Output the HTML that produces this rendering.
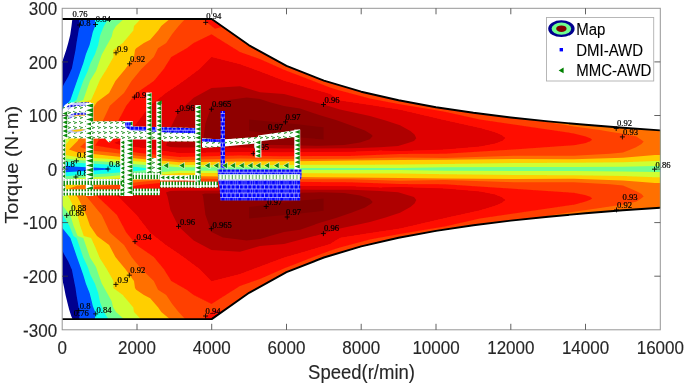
<!DOCTYPE html><html><head><meta charset="utf-8"><style>html,body{margin:0;padding:0;background:#fff;}svg{display:block;}</style></head><body><svg width="685" height="386" viewBox="0 0 685 386">
<defs><clipPath id="env"><path d="M62.2 19.0L211.7 19.0L249.1 45.3L286.5 65.9L323.9 80.6L361.2 91.7L398.6 100.3L436.0 107.2L473.4 112.8L510.8 117.5L548.2 121.4L585.5 124.8L622.9 127.8L660.3 130.4L660.3 207.7L622.9 210.3L585.5 213.3L548.2 216.7L510.8 220.6L473.4 225.3L436.0 230.9L398.6 237.8L361.2 246.4L323.9 257.5L286.5 272.2L249.1 292.8L211.7 319.1L62.2 319.1Z"/></clipPath><clipPath id="box"><rect x="62.2" y="8.3" width="598.1" height="321.5"/></clipPath></defs>
<rect width="685" height="386" fill="#fff"/>
<filter id="bl" x="0" y="0" width="1" height="1"><feGaussianBlur stdDeviation="0.7"/></filter><g filter="url(#bl)">
<g clip-path="url(#env)">
<path fill="#00008f" d="M72.3 0.0L72.3 19.5L71.5 26.0L70.2 35.0L68.2 43.0L66.2 50.0L64.2 56.0L62.2 62.0L55.0 70.0L55.0 169.8L700.0 169.8L700.0 0.0Z"/>
<path fill="#00008f" d="M72.3 340.0L72.3 318.6L71.2 316.0L69.2 309.8L67.5 303.0L65.6 295.3L64.0 287.0L62.2 279.0L55.0 270.0L55.0 168.4L700.0 168.4L700.0 340.0Z"/>
<path fill="#0050ff" d="M79.3 0.0L79.3 19.5L79.4 26.0L76.5 43.0L75.5 50.0L74.3 56.0L73.5 60.0L71.9 68.3L68.3 76.6L64.1 83.8L62.6 87.0L55.0 95.0L55.0 169.8L700.0 169.8L700.0 0.0Z"/>
<path fill="#0050ff" transform="matrix(1 0 0 -1 0 338.10)" d="M79.3 0.0L79.3 19.5L79.4 26.0L76.5 43.0L75.5 50.0L74.3 56.0L73.5 60.0L71.9 68.3L68.3 76.6L64.1 83.8L62.6 87.0L55.0 95.0L55.0 169.8L700.0 169.8L700.0 0.0Z"/>
<path fill="#10ffef" d="M95.0 0.0L95.0 19.5L95.2 26.0L92.8 32.0L91.9 36.0L89.6 45.1L86.0 54.1L83.3 63.2L80.5 71.0L77.1 80.7L73.5 91.1L70.4 100.0L68.8 102.0L62.6 109.8L55.0 115.0L55.0 165.5L62.2 165.5L77.0 166.7L92.0 167.5L107.0 168.3L112.0 169.8L700.0 169.8L700.0 0.0Z"/>
<path fill="#10ffef" transform="matrix(1 0 0 -1 0 338.10)" d="M95.0 0.0L95.0 19.5L95.2 26.0L92.8 32.0L91.9 36.0L89.6 45.1L86.0 54.1L83.3 63.2L80.5 71.0L77.1 80.7L73.5 91.1L70.4 100.0L68.8 102.0L62.6 109.8L55.0 115.0L55.0 165.5L62.2 165.5L77.0 166.7L92.0 167.5L107.0 168.3L112.0 169.8L700.0 169.8L700.0 0.0Z"/>
<path fill="#70ff8f" d="M108.0 0.0L108.0 19.5L104.0 26.0L101.5 32.0L100.0 36.0L98.2 45.1L95.1 54.1L90.5 63.2L87.8 71.0L83.3 80.7L79.7 91.1L76.6 100.0L73.5 102.0L69.3 112.4L63.1 122.7L62.2 124.0L55.0 126.0L55.0 161.5L62.2 161.5L77.0 162.8L107.0 164.5L139.4 167.3L157.0 169.8L700.0 169.8L700.0 0.0Z"/>
<path fill="#70ff8f" transform="matrix(1 0 0 -1 0 338.10)" d="M108.0 0.0L108.0 19.5L104.0 26.0L101.5 32.0L100.0 36.0L98.2 45.1L95.1 54.1L90.5 63.2L87.8 71.0L83.3 80.7L79.7 91.1L76.6 100.0L73.5 102.0L69.3 112.4L63.1 122.7L62.2 124.0L55.0 126.0L55.0 161.5L62.2 161.5L77.0 162.8L107.0 164.5L139.4 167.3L157.0 169.8L700.0 169.8L700.0 0.0Z"/>
<path fill="#cfff30" d="M122.4 0.0L123.3 19.5L116.0 26.0L113.0 31.0L111.7 36.8L106.8 45.5L101.8 54.5L98.7 63.2L96.0 71.0L90.0 80.7L86.4 91.1L83.3 100.0L77.6 102.0L73.5 112.4L70.4 122.7L66.0 128.0L62.2 133.0L55.0 135.0L55.0 158.0L62.2 158.0L77.0 160.0L107.0 161.7L139.4 164.5L179.3 167.3L240.0 167.3L280.0 168.0L350.0 168.1L400.0 168.0L445.0 167.3L514.0 167.0L574.0 167.0L623.0 166.7L655.0 166.1L700.0 166.0L700.0 0.0Z"/>
<path fill="#cfff30" transform="matrix(1 0 0 -1 0 338.10)" d="M122.4 0.0L123.3 19.5L116.0 26.0L113.0 31.0L111.7 36.8L106.8 45.5L101.8 54.5L98.7 63.2L96.0 71.0L90.0 80.7L86.4 91.1L83.3 100.0L77.6 102.0L73.5 112.4L70.4 122.7L66.0 128.0L62.2 133.0L55.0 135.0L55.0 158.0L62.2 158.0L77.0 160.0L107.0 161.7L139.4 164.5L179.3 167.3L240.0 167.3L280.0 168.0L350.0 168.1L400.0 168.0L445.0 167.3L514.0 167.0L574.0 167.0L623.0 166.7L655.0 166.1L700.0 166.0L700.0 0.0Z"/>
<path fill="#ffcf00" d="M140.3 0.0L140.3 19.5L134.0 26.0L133.3 30.6L122.8 43.0L113.3 50.0L113.5 57.0L106.7 69.0L100.0 79.7L95.2 91.1L91.1 100.0L83.8 102.0L80.2 112.4L77.6 122.7L69.0 140.8L62.2 149.0L55.0 150.0L55.0 154.5L62.2 154.5L77.0 157.0L107.0 158.8L139.4 161.6L179.3 165.0L240.0 165.0L280.0 165.0L350.0 164.7L400.0 164.5L445.0 163.9L514.0 163.0L574.0 162.8L623.0 162.2L655.0 160.9L700.0 160.5L700.0 0.0Z"/>
<path fill="#ffcf00" transform="matrix(1 0 0 -1 0 338.10)" d="M140.3 0.0L140.3 19.5L134.0 26.0L133.3 30.6L122.8 43.0L113.3 50.0L113.5 57.0L106.7 69.0L100.0 79.7L95.2 91.1L91.1 100.0L83.8 102.0L80.2 112.4L77.6 122.7L69.0 140.8L62.2 149.0L55.0 150.0L55.0 154.5L62.2 154.5L77.0 157.0L107.0 158.8L139.4 161.6L179.3 165.0L240.0 165.0L280.0 165.0L350.0 164.7L400.0 164.5L445.0 163.9L514.0 163.0L574.0 162.8L623.0 162.2L655.0 160.9L700.0 160.5L700.0 0.0Z"/>
<path fill="#ff7000" d="M169.1 0.0L169.1 19.5L161.3 26.0L158.2 30.6L150.2 39.8L143.9 43.0L136.2 48.3L135.0 50.0L134.0 57.0L125.3 69.0L115.4 81.0L109.1 93.0L97.0 102.0L90.0 112.4L86.4 122.7L77.8 140.8L69.0 149.5L77.0 152.3L107.0 155.4L139.4 158.8L179.3 162.2L240.0 161.4L280.0 161.3L350.0 160.6L400.0 160.0L445.0 159.7L514.0 159.0L574.0 159.3L623.0 157.7L655.0 155.1L700.0 154.5L700.0 0.0Z"/>
<path fill="#ff7000" transform="matrix(1 0 0 -1 0 338.10)" d="M169.1 0.0L169.1 19.5L161.3 26.0L158.2 30.6L150.2 39.8L143.9 43.0L136.2 48.3L135.0 50.0L134.0 57.0L125.3 69.0L115.4 81.0L109.1 93.0L97.0 102.0L90.0 112.4L86.4 122.7L77.8 140.8L69.0 149.5L77.0 152.3L107.0 155.4L139.4 158.8L179.3 162.2L240.0 161.4L280.0 161.3L350.0 160.6L400.0 160.0L445.0 159.7L514.0 159.0L574.0 159.3L623.0 157.7L655.0 155.1L700.0 154.5L700.0 0.0Z"/>
<path fill="#ff4000" d="M80.0 147.0L87.1 140.8L101.7 123.2L109.9 105.7L124.0 93.0L131.5 81.0L141.4 69.0L153.8 57.0L158.0 48.3L166.2 43.0L172.0 34.3L178.6 26.0L184.6 19.5L184.6 0.0L530.0 0.0L530.0 117.0L550.0 122.5L574.0 126.4L600.0 130.0L610.0 131.7L623.0 133.7L636.0 136.3L640.5 139.2L643.7 141.5L641.5 144.0L636.0 147.2L629.5 149.9L623.0 152.5L610.0 153.8L574.0 155.8L514.0 155.8L445.0 158.0L400.0 157.4L350.0 158.8L280.0 159.0L240.0 158.5L179.3 160.0L139.4 156.0L107.0 152.0L90.0 150.5Z"/>
<path fill="#ff4000" transform="matrix(1 0 0 -1 0 338.10)" d="M80.0 147.0L87.1 140.8L101.7 123.2L109.9 105.7L124.0 93.0L131.5 81.0L141.4 69.0L153.8 57.0L158.0 48.3L166.2 43.0L172.0 34.3L178.6 26.0L184.6 19.5L184.6 0.0L530.0 0.0L530.0 117.0L550.0 122.5L574.0 126.4L600.0 130.0L610.0 131.7L623.0 133.7L636.0 136.3L640.5 139.2L643.7 141.5L641.5 144.0L636.0 147.2L629.5 149.9L623.0 152.5L610.0 153.8L574.0 155.8L514.0 155.8L445.0 158.0L400.0 157.4L350.0 158.8L280.0 159.0L240.0 158.5L179.3 160.0L139.4 156.0L107.0 152.0L90.0 150.5Z"/>
<path fill="#ff1000" d="M95.0 145.5L98.2 140.8L116.9 123.2L126.2 105.7L136.4 93.0L153.8 81.0L163.7 69.0L171.2 57.0L187.0 48.0L193.5 43.0L211.5 34.2L240.0 52.0L260.0 59.0L284.0 69.7L330.0 87.4L340.0 90.5L369.9 98.6L400.0 104.2L445.0 111.7L480.0 119.5L514.0 124.5L574.0 133.4L585.0 136.3L590.3 138.3L592.2 139.7L590.3 141.3L585.0 143.2L574.0 145.3L514.0 149.4L445.0 153.8L400.0 154.0L350.0 155.9L280.0 156.3L240.0 155.5L179.3 157.0L139.4 153.1L107.0 147.4Z"/>
<path fill="#ff1000" transform="matrix(1 0 0 -1 0 338.10)" d="M95.0 145.5L98.2 140.8L116.9 123.2L126.2 105.7L136.4 93.0L153.8 81.0L163.7 69.0L171.2 57.0L187.0 48.0L193.5 43.0L211.5 34.2L240.0 52.0L260.0 59.0L284.0 69.7L330.0 87.4L340.0 90.5L369.9 98.6L400.0 104.2L445.0 111.7L480.0 119.5L514.0 124.5L574.0 133.4L585.0 136.3L590.3 138.3L592.2 139.7L590.3 141.3L585.0 143.2L574.0 145.3L514.0 149.4L445.0 153.8L400.0 154.0L350.0 155.9L280.0 156.3L240.0 155.5L179.3 157.0L139.4 153.1L107.0 147.4Z"/>
<path fill="#ff1000" d="M204.0 15.0L213.0 15.0L226.0 26.0L215.0 28.7L205.0 21.0Z"/>
<path fill="#ff1000" transform="matrix(1 0 0 -1 0 338.10)" d="M204.0 15.0L213.0 15.0L226.0 26.0L215.0 28.7L205.0 21.0Z"/>
<path fill="#df0000" d="M114.0 143.0L119.2 140.8L136.7 123.2L150.0 105.7L166.0 93.0L183.6 81.0L199.7 69.0L211.5 56.9L240.0 64.2L260.0 71.5L284.0 80.7L330.0 94.0L340.0 100.4L369.9 105.0L400.0 109.7L445.0 120.2L480.0 127.9L495.0 132.3L502.0 135.3L505.3 138.1L502.0 140.9L495.0 143.5L480.0 146.6L445.0 149.6L400.0 151.0L380.0 150.6L351.7 151.8L280.0 152.2L240.0 152.0L179.3 153.0L139.4 147.4L120.0 145.0Z"/>
<path fill="#df0000" transform="matrix(1 0 0 -1 0 338.10)" d="M114.0 143.0L119.2 140.8L136.7 123.2L150.0 105.7L166.0 93.0L183.6 81.0L199.7 69.0L211.5 56.9L240.0 64.2L260.0 71.5L284.0 80.7L330.0 94.0L340.0 100.4L369.9 105.0L400.0 109.7L445.0 120.2L480.0 127.9L495.0 132.3L502.0 135.3L505.3 138.1L502.0 140.9L495.0 143.5L480.0 146.6L445.0 149.6L400.0 151.0L380.0 150.6L351.7 151.8L280.0 152.2L240.0 152.0L179.3 153.0L139.4 147.4L120.0 145.0Z"/>
<path fill="#af0000" d="M166.0 145.5L167.5 141.5L170.4 128.1L178.5 111.7L193.7 97.7L211.5 88.0L240.0 86.3L260.0 92.2L284.0 94.0L323.5 104.5L340.0 109.5L370.0 116.0L385.6 120.5L400.0 125.3L410.4 131.0L414.5 134.5L416.3 138.2L414.0 141.0L407.2 143.2L398.1 145.9L380.0 147.2L351.7 148.3L280.0 148.6L240.0 147.5L179.3 147.4L170.0 147.0Z"/>
<path fill="#af0000" transform="matrix(1 0 0 -1 0 338.10)" d="M166.0 145.5L167.5 141.5L170.4 128.1L178.5 111.7L193.7 97.7L211.5 88.0L240.0 86.3L260.0 92.2L284.0 94.0L323.5 104.5L340.0 109.5L370.0 116.0L385.6 120.5L400.0 125.3L410.4 131.0L414.5 134.5L416.3 138.2L414.0 141.0L407.2 143.2L398.1 145.9L380.0 147.2L351.7 148.3L280.0 148.6L240.0 147.5L179.3 147.4L170.0 147.0Z"/>
<path fill="#8f0000" d="M202.0 143.5L203.0 142.0L205.4 123.4L211.5 106.0L223.0 100.7L246.7 97.5L260.0 99.0L270.0 102.2L284.0 106.0L300.0 108.4L320.0 115.3L336.0 120.1L352.0 125.7L365.0 130.5L371.4 134.5L372.7 136.1L369.8 139.3L360.1 142.6L344.1 145.0L320.0 145.8L280.0 145.0L240.0 144.6L205.0 144.5Z"/>
<path fill="#8f0000" transform="matrix(1 0 0 -1 0 338.10)" d="M202.0 143.5L203.0 142.0L205.4 123.4L211.5 106.0L223.0 100.7L246.7 97.5L260.0 99.0L270.0 102.2L284.0 106.0L300.0 108.4L320.0 115.3L336.0 120.1L352.0 125.7L365.0 130.5L371.4 134.5L372.7 136.1L369.8 139.3L360.1 142.6L344.1 145.0L320.0 145.8L280.0 145.0L240.0 144.6L205.0 144.5Z"/>
<path fill="#800000" d="M249.1 119.5L300.0 124.5L323.6 127.3L323.6 139.5L300.0 137.5L249.1 131.0Z"/>
<path fill="#800000" transform="matrix(1 0 0 -1 0 338.10)" d="M249.1 119.5L300.0 124.5L323.6 127.3L323.6 139.5L300.0 137.5L249.1 131.0Z"/>
</g>
<path d="M62.2 19.0L211.7 19.0L249.1 45.3L286.5 65.9L323.9 80.6L361.2 91.7L398.6 100.3L436.0 107.2L473.4 112.8L510.8 117.5L548.2 121.4L585.5 124.8L622.9 127.8L660.3 130.4M62.2 319.1L211.7 319.1L249.1 292.8L286.5 272.2L323.9 257.5L361.2 246.4L398.6 237.8L436.0 230.9L473.4 225.3L510.8 220.6L548.2 216.7L585.5 213.3L622.9 210.3L660.3 207.7" fill="none" stroke="#000" stroke-width="1.9" stroke-linejoin="round"/>
<g font-family="Liberation Serif, serif" font-size="8.6" fill="#000" stroke="#000" stroke-width="0.2">
<text x="72.5" y="17.2">0.76</text>
<text x="79.8" y="25.6">0.8</text>
<text x="95.8" y="21.6">0.84</text>
<text x="117.0" y="51.5">0.9</text>
<text x="130.0" y="62.0">0.92</text>
<text x="206.3" y="18.8">0.94</text>
<text x="135.5" y="98.0">0.94</text>
<text x="179.5" y="110.5">0.96</text>
<text x="212.0" y="106.8">0.965</text>
<text x="324.5" y="102.7">0.96</text>
<text x="285.5" y="119.8">0.97</text>
<text x="268.0" y="129.8">0.97</text>
<text x="254.0" y="149.6">0.95</text>
<text x="617.0" y="126.4">0.92</text>
<text x="623.0" y="134.8">0.93</text>
<text x="655.5" y="167.5">0.86</text>
<text x="64.0" y="167.0">0.8</text>
<text x="77.0" y="157.5">0.8</text>
<text x="77.0" y="176.0">0.8</text>
<text x="109.0" y="166.8">0.84</text>
<text x="71.3" y="211.4">0.88</text>
<text x="69.0" y="216.0">0.86</text>
<text x="136.5" y="240.0">0.94</text>
<text x="180.0" y="225.0">0.96</text>
<text x="212.5" y="227.5">0.965</text>
<text x="267.3" y="205.3">0.97</text>
<text x="286.0" y="214.7">0.97</text>
<text x="324.0" y="231.3">0.96</text>
<text x="622.6" y="199.7">0.93</text>
<text x="617.0" y="207.9">0.92</text>
<text x="205.6" y="314.0">0.94</text>
<text x="117.6" y="282.7">0.9</text>
<text x="130.2" y="273.1">0.92</text>
<text x="79.7" y="308.8">0.8</text>
<text x="73.8" y="316.4">0.76</text>
<text x="96.5" y="313.0">0.84</text>
</g><g stroke="#000" stroke-width="0.85" fill="none">
<path d="M77.0 25.0h5M79.5 22.5v5"/>
<path d="M93.0 24.5h5M95.5 22.0v5"/>
<path d="M113.5 52.8h5M116.0 50.3v5"/>
<path d="M127.1 63.8h5M129.6 61.3v5"/>
<path d="M203.2 22.4h5M205.7 19.9v5"/>
<path d="M131.9 97.1h5M134.4 94.6v5"/>
<path d="M175.3 111.5h5M177.8 109.0v5"/>
<path d="M208.9 109.2h5M211.4 106.7v5"/>
<path d="M321.0 104.5h5M323.5 102.0v5"/>
<path d="M283.0 121.9h5M285.5 119.4v5"/>
<path d="M250.8 153.7h5M253.3 151.2v5"/>
<path d="M613.7 128.5h5M616.2 126.0v5"/>
<path d="M619.9 136.9h5M622.4 134.4v5"/>
<path d="M652.0 169.2h5M654.5 166.7v5"/>
<path d="M73.9 160.9h5M76.4 158.4v5"/>
<path d="M73.4 177.0h5M75.9 174.5v5"/>
<path d="M105.5 169.0h5M108.0 166.5v5"/>
<path d="M64.2 215.4h5M66.7 212.9v5"/>
<path d="M132.5 241.6h5M135.0 239.1v5"/>
<path d="M176.0 226.4h5M178.5 223.9v5"/>
<path d="M208.8 228.7h5M211.3 226.2v5"/>
<path d="M263.7 206.5h5M266.2 204.0v5"/>
<path d="M284.7 217.0h5M287.2 214.5v5"/>
<path d="M320.9 233.6h5M323.4 231.1v5"/>
<path d="M614.0 209.9h5M616.5 207.4v5"/>
<path d="M203.1 316.0h5M205.6 313.5v5"/>
<path d="M113.4 284.4h5M115.9 281.9v5"/>
<path d="M126.8 275.2h5M129.3 272.7v5"/>
<path d="M76.3 310.5h5M78.8 308.0v5"/>
<path d="M93.2 313.9h5M95.7 311.4v5"/>
</g>
<g clip-path="url(#box)"><defs>
<pattern id="pt" patternUnits="userSpaceOnUse" width="5" height="5"><rect width="5" height="5" fill="#fff"/><path d="M0.6 2.5L4.4 0.4V4.6Z" fill="#0a8a0a"/></pattern>
<pattern id="ptd" patternUnits="userSpaceOnUse" width="5" height="4.4"><rect width="5" height="4.4" fill="#fff"/><path d="M0.4 2.2L4.6 0.1V4.3Z" fill="#0a800a"/></pattern>
<pattern id="pl" patternUnits="userSpaceOnUse" width="6" height="5"><rect width="6" height="5" fill="#fff"/><path d="M1 1.2l3 1.4M2 3.6l3-1.2" stroke="#3ea03e" stroke-width="1.0"/></pattern>
<pattern id="pb" patternUnits="userSpaceOnUse" width="3" height="6"><rect width="3" height="6" fill="#fff"/><rect x="0.5" y="0.7" width="1.5" height="4.6" fill="#0a8a0a"/></pattern>
<pattern id="pq" patternUnits="userSpaceOnUse" width="8.4" height="8.4"><rect width="8.4" height="8.4" fill="#fff"/><rect x="0.3" y="0.3" width="3.7" height="3.6" fill="#0000ff"/><rect x="4.5" y="0.3" width="3.6" height="3.6" fill="#0000ff"/><rect x="0.3" y="4.4" width="2.2" height="3.7" fill="#0000ff"/><rect x="2.9" y="4.4" width="3.5" height="3.7" fill="#0000ff"/><rect x="6.8" y="4.4" width="1.6" height="3.7" fill="#0000ff"/></pattern>
<pattern id="pbl" patternUnits="userSpaceOnUse" width="3.4" height="6"><rect width="3.4" height="6" fill="#f4fff4"/><rect x="0.6" y="0.8" width="1.1" height="4.4" fill="#58b058"/></pattern>
<pattern id="pq2" patternUnits="userSpaceOnUse" width="3.5" height="4"><rect width="3.5" height="4" fill="#c8c8ff"/><rect x="0.5" y="1" width="2" height="2" fill="#1010e0"/></pattern>
</defs>
<path fill="url(#pl)" d="M62.2 138.5V112Q63 103 71 102.6H91V138.5Z"/>
<path d="M67.4 108.4Q71 104.2 80 104.2L89 103.8" fill="none" stroke="url(#pq2)" stroke-width="3.2"/>
<path d="M69 117.3Q73 114 80 113.9L86 113.6" fill="none" stroke="url(#pq2)" stroke-width="3"/>
<path d="M67 131.2Q76 127.5 87 129.5Q77 135 67 131.2Z" fill="#c0c0ff"/>
<path d="M71 130.8Q78 128.3 85.5 129.6Q78 133 71 130.8Z" fill="#ffc800"/>
<path d="M74 116Q79 115 85 115.2" fill="none" stroke="#ff9a00" stroke-width="0.8"/>
<rect x="62.2" y="111.0" width="5.4" height="27.5" fill="#fff"/><path fill="#0b8a0b" d="M62.6 113.5L67.2 111.4V115.6ZM62.6 117.9L67.2 115.8V120.0ZM62.6 122.3L67.2 120.2V124.4ZM62.6 126.7L67.2 124.6V128.8ZM62.6 131.1L67.2 129.0V133.2ZM62.6 135.5L67.2 133.4V137.6Z"/>
<rect x="62.2" y="138.5" width="3.4" height="57.5" fill="#fff"/><path fill="#0b8a0b" d="M62.6 141.0L65.2 138.9V143.1ZM62.6 145.4L65.2 143.3V147.5ZM62.6 149.8L65.2 147.7V151.9ZM62.6 154.2L65.2 152.1V156.3ZM62.6 158.6L65.2 156.5V160.7ZM62.6 163.0L65.2 160.9V165.1ZM62.6 167.4L65.2 165.3V169.5ZM62.6 171.8L65.2 169.7V173.9ZM62.6 176.2L65.2 174.1V178.3ZM62.6 180.6L65.2 178.5V182.7ZM62.6 185.0L65.2 182.9V187.1ZM62.6 189.4L65.2 187.3V191.5ZM62.6 193.8L65.2 191.7V195.9Z"/>
<path fill="url(#pl)" d="M104.5 138.0L114.0 138.0L110.0 142.3L108.5 142.3Z"/>
<rect x="85.8" y="103.0" width="7.6" height="93.0" fill="#fff"/><path fill="#0b8a0b" d="M86.1 105.6L93.1 103.4V107.8ZM86.1 110.2L93.1 108.0V112.4ZM86.1 114.8L93.1 112.6V117.0ZM86.1 119.4L93.1 117.2V121.6ZM86.1 124.0L93.1 121.8V126.2ZM86.1 128.6L93.1 126.4V130.8ZM86.1 133.2L93.1 131.0V135.4ZM86.1 137.8L93.1 135.6V140.0ZM86.1 142.4L93.1 140.2V144.6ZM86.1 147.0L93.1 144.8V149.2ZM86.1 151.6L93.1 149.4V153.8ZM86.1 156.2L93.1 154.0V158.4ZM86.1 160.8L93.1 158.6V163.0ZM86.1 165.4L93.1 163.2V167.6ZM86.1 170.0L93.1 167.8V172.2ZM86.1 174.6L93.1 172.4V176.8ZM86.1 179.2L93.1 177.0V181.4ZM86.1 183.8L93.1 181.6V186.0ZM86.1 188.4L93.1 186.2V190.6ZM86.1 193.0L93.1 190.8V195.2Z"/>
<rect x="91.0" y="121.2" width="35.0" height="17.4" fill="url(#pl)"/>
<rect x="120.5" y="121.0" width="12.3" height="75.0" fill="url(#pl)"/>
<rect x="126.5" y="121.0" width="6.3" height="75.0" fill="#fff"/><path fill="#0b8a0b" d="M126.8 123.5L132.5 121.4V125.5ZM126.8 127.8L132.5 125.7V129.8ZM126.8 132.1L132.5 130.0V134.1ZM126.8 136.4L132.5 134.3V138.4ZM126.8 140.7L132.5 138.6V142.7ZM126.8 145.0L132.5 142.9V147.0ZM126.8 149.3L132.5 147.2V151.3ZM126.8 153.6L132.5 151.5V155.6ZM126.8 157.9L132.5 155.8V159.9ZM126.8 162.2L132.5 160.1V164.2ZM126.8 166.5L132.5 164.4V168.5ZM126.8 170.8L132.5 168.7V172.8ZM126.8 175.1L132.5 173.0V177.1ZM126.8 179.4L132.5 177.3V181.4ZM126.8 183.7L132.5 181.6V185.7ZM126.8 188.0L132.5 185.9V190.0ZM126.8 192.3L132.5 190.2V194.3Z"/>
<rect x="120.5" y="140.0" width="4.0" height="56.0" fill="#fff"/><path fill="#0b8a0b" d="M120.8 142.5L124.2 140.4V144.5ZM120.8 146.8L124.2 144.7V148.8ZM120.8 151.1L124.2 149.0V153.1ZM120.8 155.4L124.2 153.3V157.4ZM120.8 159.7L124.2 157.6V161.7ZM120.8 164.0L124.2 161.9V166.0ZM120.8 168.3L124.2 166.2V170.3ZM120.8 172.6L124.2 170.5V174.6ZM120.8 176.9L124.2 174.8V178.9ZM120.8 181.2L124.2 179.1V183.2ZM120.8 185.5L124.2 183.4V187.5ZM120.8 189.8L124.2 187.7V191.8ZM120.8 194.1L124.2 192.0V196.1Z"/>
<path fill="url(#pl)" d="M126.0 126.3L196.0 128.0L196.0 141.5L163.0 141.5L163.0 140.0L149.2 139.6L132.8 139.6L126.0 139.6Z"/>
<path fill="url(#pq)" d="M125.2 122.2L130.6 122.2L130.6 126.6L196.0 128.2L196.0 133.2L168.0 132.6L130.6 130.2L125.2 127.2Z"/>
<rect x="146.2" y="92.5" width="5.6" height="82.5" fill="#fff"/><path fill="#0b8a0b" d="M146.5 95.0L151.5 92.9V97.0ZM146.5 99.2L151.5 97.2V101.3ZM146.5 103.5L151.5 101.5V105.6ZM146.5 107.8L151.5 105.8V109.9ZM146.5 112.1L151.5 110.1V114.2ZM146.5 116.4L151.5 114.4V118.5ZM146.5 120.7L151.5 118.7V122.8ZM146.5 125.0L151.5 123.0V127.1ZM146.5 129.3L151.5 127.3V131.4ZM146.5 133.6L151.5 131.6V135.7ZM146.5 137.9L151.5 135.9V140.0ZM146.5 142.2L151.5 140.2V144.3ZM146.5 146.6L151.5 144.5V148.6ZM146.5 150.9L151.5 148.8V152.9ZM146.5 155.2L151.5 153.1V157.2ZM146.5 159.5L151.5 157.4V161.5ZM146.5 163.8L151.5 161.7V165.8ZM146.5 168.1L151.5 166.0V170.1ZM146.5 172.4L151.5 170.3V174.4Z"/>
<rect x="156.3" y="101.5" width="5.3" height="73.5" fill="#fff"/><path fill="#0b8a0b" d="M156.7 104.0L161.2 101.9V106.0ZM156.7 108.2L161.2 106.2V110.3ZM156.7 112.5L161.2 110.5V114.6ZM156.7 116.8L161.2 114.8V118.9ZM156.7 121.1L161.2 119.1V123.2ZM156.7 125.4L161.2 123.4V127.5ZM156.7 129.7L161.2 127.7V131.8ZM156.7 134.0L161.2 132.0V136.1ZM156.7 138.3L161.2 136.3V140.4ZM156.7 142.7L161.2 140.6V144.7ZM156.7 147.0L161.2 144.9V149.0ZM156.7 151.3L161.2 149.2V153.3ZM156.7 155.6L161.2 153.5V157.6ZM156.7 159.9L161.2 157.8V161.9ZM156.7 164.2L161.2 162.1V166.2ZM156.7 168.5L161.2 166.4V170.5ZM156.7 172.8L161.2 170.7V174.8Z"/>
<path fill="#0b8a0b" d="M156.3 103.5L161.6 100.2V104Z"/>
<rect x="152.0" y="158.0" width="4.3" height="14.8" fill="url(#pl)"/>
<rect x="195.2" y="105.1" width="5.8" height="82.9" fill="#fff"/><path fill="#0b8a0b" d="M195.5 107.5L200.7 105.5V109.6ZM195.5 111.8L200.7 109.8V113.9ZM195.5 116.1L200.7 114.1V118.2ZM195.5 120.4L200.7 118.4V122.5ZM195.5 124.7L200.7 122.7V126.8ZM195.5 129.0L200.7 127.0V131.1ZM195.5 133.3L200.7 131.3V135.4ZM195.5 137.7L200.7 135.6V139.7ZM195.5 142.0L200.7 139.9V144.0ZM195.5 146.3L200.7 144.2V148.3ZM195.5 150.6L200.7 148.5V152.6ZM195.5 154.9L200.7 152.8V156.9ZM195.5 159.2L200.7 157.1V161.2ZM195.5 163.5L200.7 161.4V165.5ZM195.5 167.8L200.7 165.7V169.8ZM195.5 172.1L200.7 170.0V174.1ZM195.5 176.4L200.7 174.3V178.4ZM195.5 180.7L200.7 178.6V182.7ZM195.5 185.0L200.7 182.9V187.0Z"/>
<path fill="url(#pl)" d="M202.0 138.3L222.0 139.5L258.8 136.8L258.8 143.2L222.0 146.8L202.0 148.0Z"/>
<path fill="url(#pq)" d="M202.0 138.4L222.0 139.4L222.0 142.3L202.0 141.6Z"/>
<path fill="url(#pl)" d="M258.0 135.4L299.9 129.4L299.9 136.6L262.0 140.9L258.0 143.2Z"/>
<path fill="#fff" d="M254.2 140.2L261.4 139.2L261.4 157.5L257.0 155.5L254.2 147.0Z"/>
<rect x="255.2" y="140.0" width="5.6" height="17.5" fill="#fff"/><path fill="#0b8a0b" d="M255.5 142.5L260.4 140.4V144.6ZM255.5 146.9L260.4 144.8V149.0ZM255.5 151.3L260.4 149.2V153.4ZM255.5 155.7L260.4 153.6V157.8Z"/>
<rect x="294.3" y="129.6" width="5.9" height="40.4" fill="#fff"/><path fill="#0b8a0b" d="M294.7 132.1L299.8 130.0V134.1ZM294.7 136.4L299.8 134.3V138.4ZM294.7 140.7L299.8 138.6V142.7ZM294.7 145.0L299.8 142.9V147.0ZM294.7 149.3L299.8 147.2V151.3ZM294.7 153.6L299.8 151.5V155.6ZM294.7 157.9L299.8 155.8V159.9ZM294.7 162.2L299.8 160.1V164.2ZM294.7 166.5L299.8 164.4V168.5Z"/>
<rect x="220.6" y="111.0" width="4.4" height="57.5" fill="url(#pq)"/>
<rect x="62.2" y="179.0" width="59.8" height="5.8" fill="url(#pb)"/>
<rect x="62.2" y="189.3" width="59.8" height="6.1" fill="url(#pb)"/>
<rect x="132.8" y="172.8" width="27.2" height="6.6" fill="url(#pb)"/>
<rect x="132.8" y="188.6" width="27.2" height="6.6" fill="url(#pb)"/>
<rect x="160.0" y="175.2" width="40.0" height="5.3" fill="url(#pt)"/>
<rect x="160.0" y="181.6" width="58.0" height="6.0" fill="url(#pb)"/>
<rect x="188.0" y="175.2" width="10.0" height="5.3" fill="url(#pb)"/>
<path fill="url(#pq)" d="M217.6 169.6L301.6 169.6L301.6 178.0L300.2 179.0L300.2 200.4L220.4 200.4L219.6 188.0L218.2 180.0Z"/>
<rect x="218.4" y="174.2" width="81.6" height="5.6" fill="url(#pbl)"/>
<path d="M163.0 165.6l5.6-3.2v6.4z" fill="#0a8a0a" stroke="#fff" stroke-width="0.7" stroke-opacity="0.8"/>
<path d="M178.9 165.6l5.6-3.2v6.4z" fill="#0a8a0a" stroke="#fff" stroke-width="0.7" stroke-opacity="0.8"/>
<path d="M204.4 165.6l5.6-3.2v6.4z" fill="#0a8a0a" stroke="#fff" stroke-width="0.7" stroke-opacity="0.8"/>
<path d="M213.2 165.6l5.6-3.2v6.4z" fill="#0a8a0a" stroke="#fff" stroke-width="0.7" stroke-opacity="0.8"/>
<path d="M221.9 165.6l5.6-3.2v6.4z" fill="#0a8a0a" stroke="#fff" stroke-width="0.7" stroke-opacity="0.8"/>
<path d="M229.8 165.6l5.6-3.2v6.4z" fill="#0a8a0a" stroke="#fff" stroke-width="0.7" stroke-opacity="0.8"/>
<path d="M238.6 165.6l5.6-3.2v6.4z" fill="#0a8a0a" stroke="#fff" stroke-width="0.7" stroke-opacity="0.8"/>
<path d="M247.3 165.6l5.6-3.2v6.4z" fill="#0a8a0a" stroke="#fff" stroke-width="0.7" stroke-opacity="0.8"/>
<path d="M255.2 165.6l5.6-3.2v6.4z" fill="#0a8a0a" stroke="#fff" stroke-width="0.7" stroke-opacity="0.8"/>
<path d="M263.9 165.6l5.6-3.2v6.4z" fill="#0a8a0a" stroke="#fff" stroke-width="0.7" stroke-opacity="0.8"/>
<path d="M273.5 165.6l5.6-3.2v6.4z" fill="#0a8a0a" stroke="#fff" stroke-width="0.7" stroke-opacity="0.8"/>
<path d="M283.2 165.6l5.6-3.2v6.4z" fill="#0a8a0a" stroke="#fff" stroke-width="0.7" stroke-opacity="0.8"/></g>
<rect x="62.2" y="8.3" width="598.1" height="321.5" fill="none" stroke="#969696" stroke-width="1"/>
<path d="M137.0 329.8v-6M137.0 8.3v6" stroke="#3a3a3a" stroke-width="0.8"/>
<path d="M211.7 329.8v-6M211.7 8.3v6" stroke="#3a3a3a" stroke-width="0.8"/>
<path d="M286.5 329.8v-6M286.5 8.3v6" stroke="#3a3a3a" stroke-width="0.8"/>
<path d="M361.2 329.8v-6M361.2 8.3v6" stroke="#3a3a3a" stroke-width="0.8"/>
<path d="M436.0 329.8v-6M436.0 8.3v6" stroke="#3a3a3a" stroke-width="0.8"/>
<path d="M510.8 329.8v-6M510.8 8.3v6" stroke="#3a3a3a" stroke-width="0.8"/>
<path d="M585.5 329.8v-6M585.5 8.3v6" stroke="#3a3a3a" stroke-width="0.8"/>
<path d="M62.2 276.2h6M660.3 276.2h-6" stroke="#3a3a3a" stroke-width="0.8"/>
<path d="M62.2 222.6h6M660.3 222.6h-6" stroke="#3a3a3a" stroke-width="0.8"/>
<path d="M62.2 169.1h6M660.3 169.1h-6" stroke="#3a3a3a" stroke-width="0.8"/>
<path d="M62.2 115.5h6M660.3 115.5h-6" stroke="#3a3a3a" stroke-width="0.8"/>
<path d="M62.2 61.9h6M660.3 61.9h-6" stroke="#3a3a3a" stroke-width="0.8"/>
<text transform="translate(62.2 354.0) scale(1 1.09)" text-anchor="middle" font-family="Liberation Sans, sans-serif" font-size="17" fill="#262626" stroke="#262626" stroke-width="0.12">0</text>
<text transform="translate(137.0 354.0) scale(1 1.09)" text-anchor="middle" font-family="Liberation Sans, sans-serif" font-size="17" fill="#262626" stroke="#262626" stroke-width="0.12">2000</text>
<text transform="translate(211.7 354.0) scale(1 1.09)" text-anchor="middle" font-family="Liberation Sans, sans-serif" font-size="17" fill="#262626" stroke="#262626" stroke-width="0.12">4000</text>
<text transform="translate(286.5 354.0) scale(1 1.09)" text-anchor="middle" font-family="Liberation Sans, sans-serif" font-size="17" fill="#262626" stroke="#262626" stroke-width="0.12">6000</text>
<text transform="translate(361.2 354.0) scale(1 1.09)" text-anchor="middle" font-family="Liberation Sans, sans-serif" font-size="17" fill="#262626" stroke="#262626" stroke-width="0.12">8000</text>
<text transform="translate(436.0 354.0) scale(1 1.09)" text-anchor="middle" font-family="Liberation Sans, sans-serif" font-size="17" fill="#262626" stroke="#262626" stroke-width="0.12">10000</text>
<text transform="translate(510.8 354.0) scale(1 1.09)" text-anchor="middle" font-family="Liberation Sans, sans-serif" font-size="17" fill="#262626" stroke="#262626" stroke-width="0.12">12000</text>
<text transform="translate(585.5 354.0) scale(1 1.09)" text-anchor="middle" font-family="Liberation Sans, sans-serif" font-size="17" fill="#262626" stroke="#262626" stroke-width="0.12">14000</text>
<text transform="translate(660.3 354.0) scale(1 1.09)" text-anchor="middle" font-family="Liberation Sans, sans-serif" font-size="17" fill="#262626" stroke="#262626" stroke-width="0.12">16000</text>
<text transform="translate(57.1 336.5) scale(1 1.09)" text-anchor="end" font-family="Liberation Sans, sans-serif" font-size="17" fill="#262626" stroke="#262626" stroke-width="0.12">-300</text>
<text transform="translate(57.1 282.9) scale(1 1.09)" text-anchor="end" font-family="Liberation Sans, sans-serif" font-size="17" fill="#262626" stroke="#262626" stroke-width="0.12">-200</text>
<text transform="translate(57.1 229.3) scale(1 1.09)" text-anchor="end" font-family="Liberation Sans, sans-serif" font-size="17" fill="#262626" stroke="#262626" stroke-width="0.12">-100</text>
<text transform="translate(57.1 175.8) scale(1 1.09)" text-anchor="end" font-family="Liberation Sans, sans-serif" font-size="17" fill="#262626" stroke="#262626" stroke-width="0.12">0</text>
<text transform="translate(57.1 122.2) scale(1 1.09)" text-anchor="end" font-family="Liberation Sans, sans-serif" font-size="17" fill="#262626" stroke="#262626" stroke-width="0.12">100</text>
<text transform="translate(57.1 68.6) scale(1 1.09)" text-anchor="end" font-family="Liberation Sans, sans-serif" font-size="17" fill="#262626" stroke="#262626" stroke-width="0.12">200</text>
<text transform="translate(57.1 15.0) scale(1 1.09)" text-anchor="end" font-family="Liberation Sans, sans-serif" font-size="17" fill="#262626" stroke="#262626" stroke-width="0.12">300</text>
<text transform="translate(361.5 378.9) scale(1 1.09)" text-anchor="middle" font-family="Liberation Sans, sans-serif" font-size="18.5" fill="#262626" stroke="#262626" stroke-width="0.12">Speed(r/min)</text>
<text transform="translate(18.0 164.8) rotate(-90) scale(1.07 1)" text-anchor="middle" font-family="Liberation Sans, sans-serif" font-size="18.7" fill="#262626" stroke="#262626" stroke-width="0.12">Torque (N&#183;m)</text>
<rect x="546.5" y="17.5" width="107.2" height="63.5" fill="#fff" stroke="#b0b0b0" stroke-width="0.9"/>
<ellipse cx="561.4" cy="28.7" rx="13.2" ry="8.4" fill="#00008f"/>
<ellipse cx="561.4" cy="28.7" rx="9.8" ry="6.1" fill="#70ff8f"/>
<ellipse cx="561.4" cy="28.7" rx="5.2" ry="3.3" fill="#800000"/>
<rect x="559.6" y="48" width="3.4" height="3.4" fill="#0000ff"/>
<path d="M558.6 70.4L563.6 67.6V73.2Z" fill="#008000"/>
<text transform="translate(576.2 34.9) scale(1 1.07)" font-family="Liberation Sans, sans-serif" font-size="15" fill="#000" stroke="#000" stroke-width="0.1">Map</text>
<text transform="translate(576.2 55.5) scale(1 1.07)" font-family="Liberation Sans, sans-serif" font-size="15" fill="#000" stroke="#000" stroke-width="0.1">DMI-AWD</text>
<text transform="translate(576.2 76.2) scale(1 1.07)" font-family="Liberation Sans, sans-serif" font-size="15" fill="#000" stroke="#000" stroke-width="0.1">MMC-AWD</text>
</g>
</svg></body></html>
